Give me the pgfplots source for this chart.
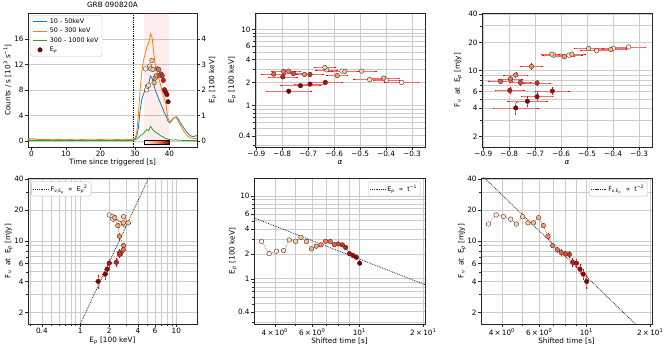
\documentclass[border=0pt]{standalone}
\usepackage{pgfplots}
\pgfplotsset{compat=1.18}
\usepackage{pgfplotstable}
\usepackage{fontspec}
\setmainfont{DejaVu Sans}

\definecolor{cb}{HTML}{1F77B4}
\definecolor{co}{HTML}{FF7F0E}
\definecolor{cg}{HTML}{2CA02C}
\definecolor{or0}{HTML}{FFF7EC}
\definecolor{or4}{HTML}{FC8D59}
\definecolor{or8}{HTML}{7F0000}
\definecolor{ebc}{HTML}{F27070}

\newcommand{\fs}{\fontsize{7.3}{8.3}\selectfont}
\newcommand{\fsl}{\fontsize{6.4}{7.2}\selectfont}
\newcommand{\Ep}{E\textsubscript{\itshape p}}

% time since shift, Ep [100 keV], F at Ep [mJy], alpha, colour index
\pgfplotstableread{
t     Ep   Eperr F    Ferr al     alerr c
3.46  2.83 0.12  14.6 0.5  -0.570 0.050 0
3.76  2.01 0.08  17.9 0.6  -0.340 0.065 1
4.07  2.15 0.08  17.3 0.6  -0.399 0.050 2
4.40  2.19 0.09  16.3 0.6  -0.463 0.060 3
4.68  2.94 0.12  14.6 0.5  -0.629 0.040 4
5.01  2.83 0.11  17.2 0.6  -0.494 0.055 5
5.31  3.16 0.12  15.0 0.5  -0.636 0.040 6
5.63  2.81 0.11  15.0 0.5  -0.559 0.050 7
5.96  2.29 0.09  16.8 0.6  -0.409 0.060 8
6.27  2.47 0.10  14.1 0.6  -0.588 0.040 9
6.60  2.56 0.10  11.1 0.6  -0.714 0.040 10
6.94  2.83 0.12  9.0  0.4  -0.775 0.045 11
7.30  2.81 0.12  8.2  0.4  -0.795 0.045 12
7.62  2.58 0.11  7.7  0.4  -0.833 0.045 13
7.96  2.63 0.11  7.5  0.4  -0.757 0.040 14
8.32  2.56 0.11  7.4  0.4  -0.693 0.050 15
8.63  2.38 0.10  6.18 0.45 -0.798 0.055 16
8.98  2.01 0.09  6.08 0.5  -0.634 0.065 17
9.34  1.91 0.09  5.31 0.5  -0.693 0.060 18
9.68  1.82 0.09  4.74 0.5  -0.730 0.075 19
10.04 1.54 0.09  4.03 0.55 -0.775 0.085 20
}\grb

% light curves, 10^3 counts/s
\pgfplotstableread{
t    b    o    g
-1   0.20 0.40 0.10
0    0.10 0.35 0.05
1    0.15 0.30 0.10
2    0.10 0.20 0.05
3    0.12 0.25 0.08
4    0.10 0.20 0.05
5    0.15 0.22 0.10
6    0.10 0.18 0.06
7    0.12 0.20 0.05
8    0.10 0.25 0.08
9    0.08 0.20 0.05
10   0.12 0.18 0.10
11   0.10 0.22 0.05
12   0.13 0.20 0.06
13   0.10 0.15 0.08
14   0.08 0.20 0.05
15   0.10 0.22 0.06
16   0.12 0.18 0.05
17   0.10 0.20 0.08
18   0.08 0.15 0.05
19   0.10 0.20 0.06
20   0.12 0.25 0.05
21   0.10 0.20 0.08
22   0.08 0.18 0.05
23   0.10 0.15 0.06
24   0.12 0.20 0.05
25   0.10 0.22 0.08
26   0.08 0.18 0.05
27   0.10 0.20 0.06
28   0.12 0.22 0.05
29   0.15 0.25 0.08
29.5 0.20 0.30 0.10
30   0.30 0.40 0.15
30.5 0.70 1.20 0.30
31   2.00 4.00 0.50
31.5 4.80 8.00 0.80
32   6.50 10.9 1.00
32.5 7.40 12.7 1.20
33   8.00 13.8 1.50
33.5 8.40 14.8 1.80
34   9.00 15.4 1.60
34.5 10.2 16.8 2.30
35   9.80 16.2 1.90
35.5 8.80 13.6 1.60
36   7.80 11.5 1.40
36.5 7.20 10.8 1.20
37   6.50 9.60 1.00
37.5 5.80 8.70 0.80
38   5.20 7.60 0.70
38.5 4.50 6.70 0.50
39   4.00 5.80 0.40
39.5 3.20 3.80 0.30
40   2.90 2.80 0.20
40.5 3.20 3.00 0.20
41   3.50 3.40 0.15
41.5 3.70 3.70 0.15
42   3.80 3.60 0.20
42.5 3.50 3.20 0.10
43   3.00 2.60 0.10
43.5 2.60 2.20 0.10
44   2.20 1.70 0.08
44.5 1.80 1.30 0.08
45   1.40 0.90 0.06
45.5 1.10 0.70 0.05
46   0.90 0.50 0.06
46.5 0.70 0.45 0.05
47   0.70 0.40 0.05
47.5 0.80 0.40 0.05
48   0.80 0.40 0.05
}\lc

\pgfplotsset{
  colormap={orrd}{rgb255=(255,247,236) rgb255=(254,232,200) rgb255=(253,212,158)
    rgb255=(253,187,132) rgb255=(252,141,89) rgb255=(239,101,72) rgb255=(215,48,31)
    rgb255=(179,0,0) rgb255=(127,0,0)},
  base/.style={scale only axis, anchor=north west,
    tick align=outside, tick pos=left,
    major tick length=3pt, minor tick length=1.7pt,
    axis line style={black!85, line width=0.6pt},
    every tick/.style={black!85, line width=0.5pt},
    tick label style={font=\fs, inner sep=1.2pt},
    label style={font=\fs}, title style={font=\fs},
    /pgf/number format/assume math mode=true,
    grid style={black!20, line width=0.6pt},
    minor grid style={black!20, line width=0.6pt},
    legend style={font=\fsl, draw=black!25, rounded corners=1.5pt, fill=white,
      inner sep=1.5pt, row sep=-1pt},
    legend cell align=left,
    legend image code/.code={\draw[mark repeat=2, mark phase=2, #1]
      plot coordinates {(0cm,0cm) (0.26cm,0cm) (0.52cm,0cm)};},
    colormap name=orrd,
  },
  yl/.style={ylabel style={at={(axis description cs:#1,0.5)}, anchor=center}},
  xl/.style={xlabel style={at={(axis description cs:0.5,#1)}, anchor=center}},
  logE/.style={ymin=0.285, ymax=16.4,
    ytick={0.4,1,2,4,6,10}, yticklabels={0.4,1,2,4,6,10},
    minor ytick={0.3,0.5,0.6,0.7,0.8,0.9,3,5,7,8,9}},
  logF/.style={ymin=1.55, ymax=41,
    ytick={2,4,6,10,20,40}, yticklabels={2,4,6,10,20,40},
    minor ytick={3,5,7,8,9,30}},
  logT/.style={xmin=3.19, xmax=20.4,
    xtick={4,6,10,20},
    xticklabels={4\,×\,10\textsuperscript{0},6\,×\,10\textsuperscript{0},10\textsuperscript{1},2\,×\,10\textsuperscript{1}},
    minor xtick={5,7,8,9}},
  alx/.style={xmin=-0.905, xmax=-0.25, xtick={-0.9,-0.8,-0.7,-0.6,-0.5,-0.4,-0.3},
    xticklabels={−0.9,−0.8,−0.7,−0.6,−0.5,−0.4,−0.3}, xlabel={\itshape α}},
  pts/.style={scatter, only marks, mark=*, mark size=2.3pt,
    scatter src=explicit, point meta min=0, point meta max=20,
    scatter/use mapped color={draw=black!80, fill=mapped color},
    mark options={line width=0.35pt}},
  bars/.style={ebc, only marks, mark=none},
  eb/.style={error bars/.cd, x dir=both, x explicit, y dir=both, y explicit,
    error bar style={draw=ebc, line width=0.55pt},
    error mark options={draw=red, mark size=0.8pt, line width=0.5pt}},
  ebx/.style={error bars/.cd, y dir=both, y explicit,
    error bar style={draw=ebc, line width=0.55pt},
    error mark options={draw=red, mark size=0.8pt, line width=0.5pt}},
  link/.style={red!85, densely dotted, line width=0.6pt, no markers},
  fit/.style={black!85, densely dotted, line width=0.8pt, no markers},
}

\begin{document}
\begin{tikzpicture}
\useasboundingbox (0,0) rectangle (668pt,-352pt);

% ---- top left: light curves
\begin{axis}[base, at={(28pt,-13pt)}, width=169pt, height=134pt,
  xmin=-1, xmax=48, ymin=-0.95, ymax=20.1,
  xtick={0,10,20,30,40}, ytick={0,4,8,12,16}, ymajorgrids,
  xlabel={Time since triggered [s]},
  ylabel={Counts / s [10\textsuperscript{3} s\textsuperscript{−1}]},
  yl=-0.122, xl=-0.119,
  title={GRB 090820A}, title style={yshift=-4.5pt},
  legend style={at={(0.015,0.985)}, anchor=north west}]
\fill[red, opacity=0.07] (axis cs:32.7,-0.95) rectangle (axis cs:40,20.1);
\draw[black, densely dotted, line width=0.8pt] (axis cs:29.7,-0.95) -- (axis cs:29.7,20.1);
\addplot[cb, line width=0.8pt] table[x=t, y=b] {\lc};
\addlegendentry{10 - 50keV}
\addplot[co, line width=0.8pt] table[x=t, y=o] {\lc};
\addlegendentry{50 - 300 keV}
\addplot[cg, line width=0.8pt] table[x=t, y=g] {\lc};
\addlegendentry{300 - 1000 keV}
\addlegendimage{only marks, mark=*, mark size=2.3pt, draw=black!80, fill=or8}
\addlegendentry{\Ep}
\end{axis}
\begin{axis}[base, at={(28pt,-13pt)}, width=169pt, height=134pt,
  xmin=-1, xmax=48, ymin=-0.2375, ymax=5.025,
  axis x line=none, axis y line*=right, ytick pos=right,
  ytick={0,1,2,3,4}, ylabel={\Ep\ [100 keV]}, yl=1.092]
\shade[left color=or0, right color=or8, middle color=or4, draw=black, line width=0.4pt]
  (axis cs:32.7,-0.145) rectangle (axis cs:40,0.026);
\addplot[pts] table[x expr=\thisrow{t}+29.6, y=Ep, meta=c] {\grb};
\end{axis}

% ---- top middle: Ep vs alpha
\begin{axis}[base, ymode=log, at={(255pt,-13pt)}, width=170pt, height=134pt,
  alx, logE, grid=both, ylabel={\Ep\ [100 keV]}, yl=-0.135, xl=-0.119]
\addplot[bars, eb] table[x=al, y=Ep, x error=alerr, y error=Eperr] {\grb};
\addplot[pts] table[x=al, y=Ep, meta=c] {\grb};
\end{axis}

% ---- top right: F vs alpha
\begin{axis}[base, ymode=log, at={(482pt,-13pt)}, width=170pt, height=134pt,
  alx, logF, grid=both, ylabel={F\textsubscript{\itshape ν}\ \ at\ \ \Ep\ [mJy]},
  yl=-0.14, xl=-0.119]
\addplot[bars, eb] table[x=al, y=F, x error=alerr, y error=Ferr] {\grb};
\addplot[pts] table[x=al, y=F, meta=c] {\grb};
\end{axis}

% ---- bottom left: F vs Ep
\begin{axis}[base, xmode=log, ymode=log, at={(28pt,-178pt)}, width=169pt, height=146pt,
  xmin=0.287, xmax=16.4,
  xtick={0.4,1,2,4,6,10}, xticklabels={0.4,1,2,4,6,10},
  minor xtick={0.3,0.5,0.6,0.7,0.8,0.9,3,5,7,8,9},
  logF, grid=both, xlabel={\Ep\ [100 keV]},
  ylabel={F\textsubscript{\itshape ν}\ \ at\ \ \Ep\ [mJy]}, yl=-0.115, xl=-0.116,
  legend style={at={(0.02,0.975)}, anchor=north west}]
\addplot[fit] coordinates {(0.95,1.39) (5.6,48.3)};
\addlegendentry{F\textsubscript{{\itshape ν},E\textsubscript{\itshape p}}\ \ ∝\ \ E\textsubscript{\itshape p}\textsuperscript{2}}
\addplot[forget plot, link] table[x=Ep, y=F] {\grb};
\addplot[forget plot, bars, eb] table[x=Ep, y=F, x error=Eperr, y error=Ferr] {\grb};
\addplot[forget plot, pts] table[x=Ep, y=F, meta=c] {\grb};
\end{axis}

% ---- bottom middle: Ep vs shifted time
\begin{axis}[base, xmode=log, ymode=log, at={(254pt,-178pt)}, width=171pt, height=146pt,
  logT, logE, grid=both, xlabel={Shifted time [s]}, ylabel={\Ep\ [100 keV]},
  yl=-0.123, xl=-0.116,
  legend style={at={(0.975,0.975)}, anchor=north east}]
\addplot[fit] coordinates {(3.1,5.58) (21,0.824)};
\addlegendentry{\Ep\ \ ∝\ \ t\textsuperscript{−1}}
\addplot[forget plot, link] table[x=t, y=Ep] {\grb};
\addplot[forget plot, bars, ebx] table[x=t, y=Ep, y error=Eperr] {\grb};
\addplot[forget plot, pts] table[x=t, y=Ep, meta=c] {\grb};
\end{axis}

% ---- bottom right: F vs shifted time
\begin{axis}[base, xmode=log, ymode=log, at={(481pt,-178pt)}, width=171pt, height=146pt,
  logT, logF, grid=both, xlabel={Shifted time [s]},
  ylabel={F\textsubscript{\itshape ν}\ \ at\ \ \Ep\ [mJy]}, yl=-0.112, xl=-0.116,
  legend style={at={(0.975,0.975)}, anchor=north east}]
\addplot[fit] coordinates {(3.1,46.9) (21,1.02)};
\addlegendentry{F\textsubscript{{\itshape ν},E\textsubscript{\itshape p}}\ \ ∝\ \ t\textsuperscript{−2}}
\addplot[forget plot, link] table[x=t, y=F] {\grb};
\addplot[forget plot, bars, ebx] table[x=t, y=F, y error=Ferr] {\grb};
\addplot[forget plot, pts] table[x=t, y=F, meta=c] {\grb};
\end{axis}
\end{tikzpicture}
\end{document}
